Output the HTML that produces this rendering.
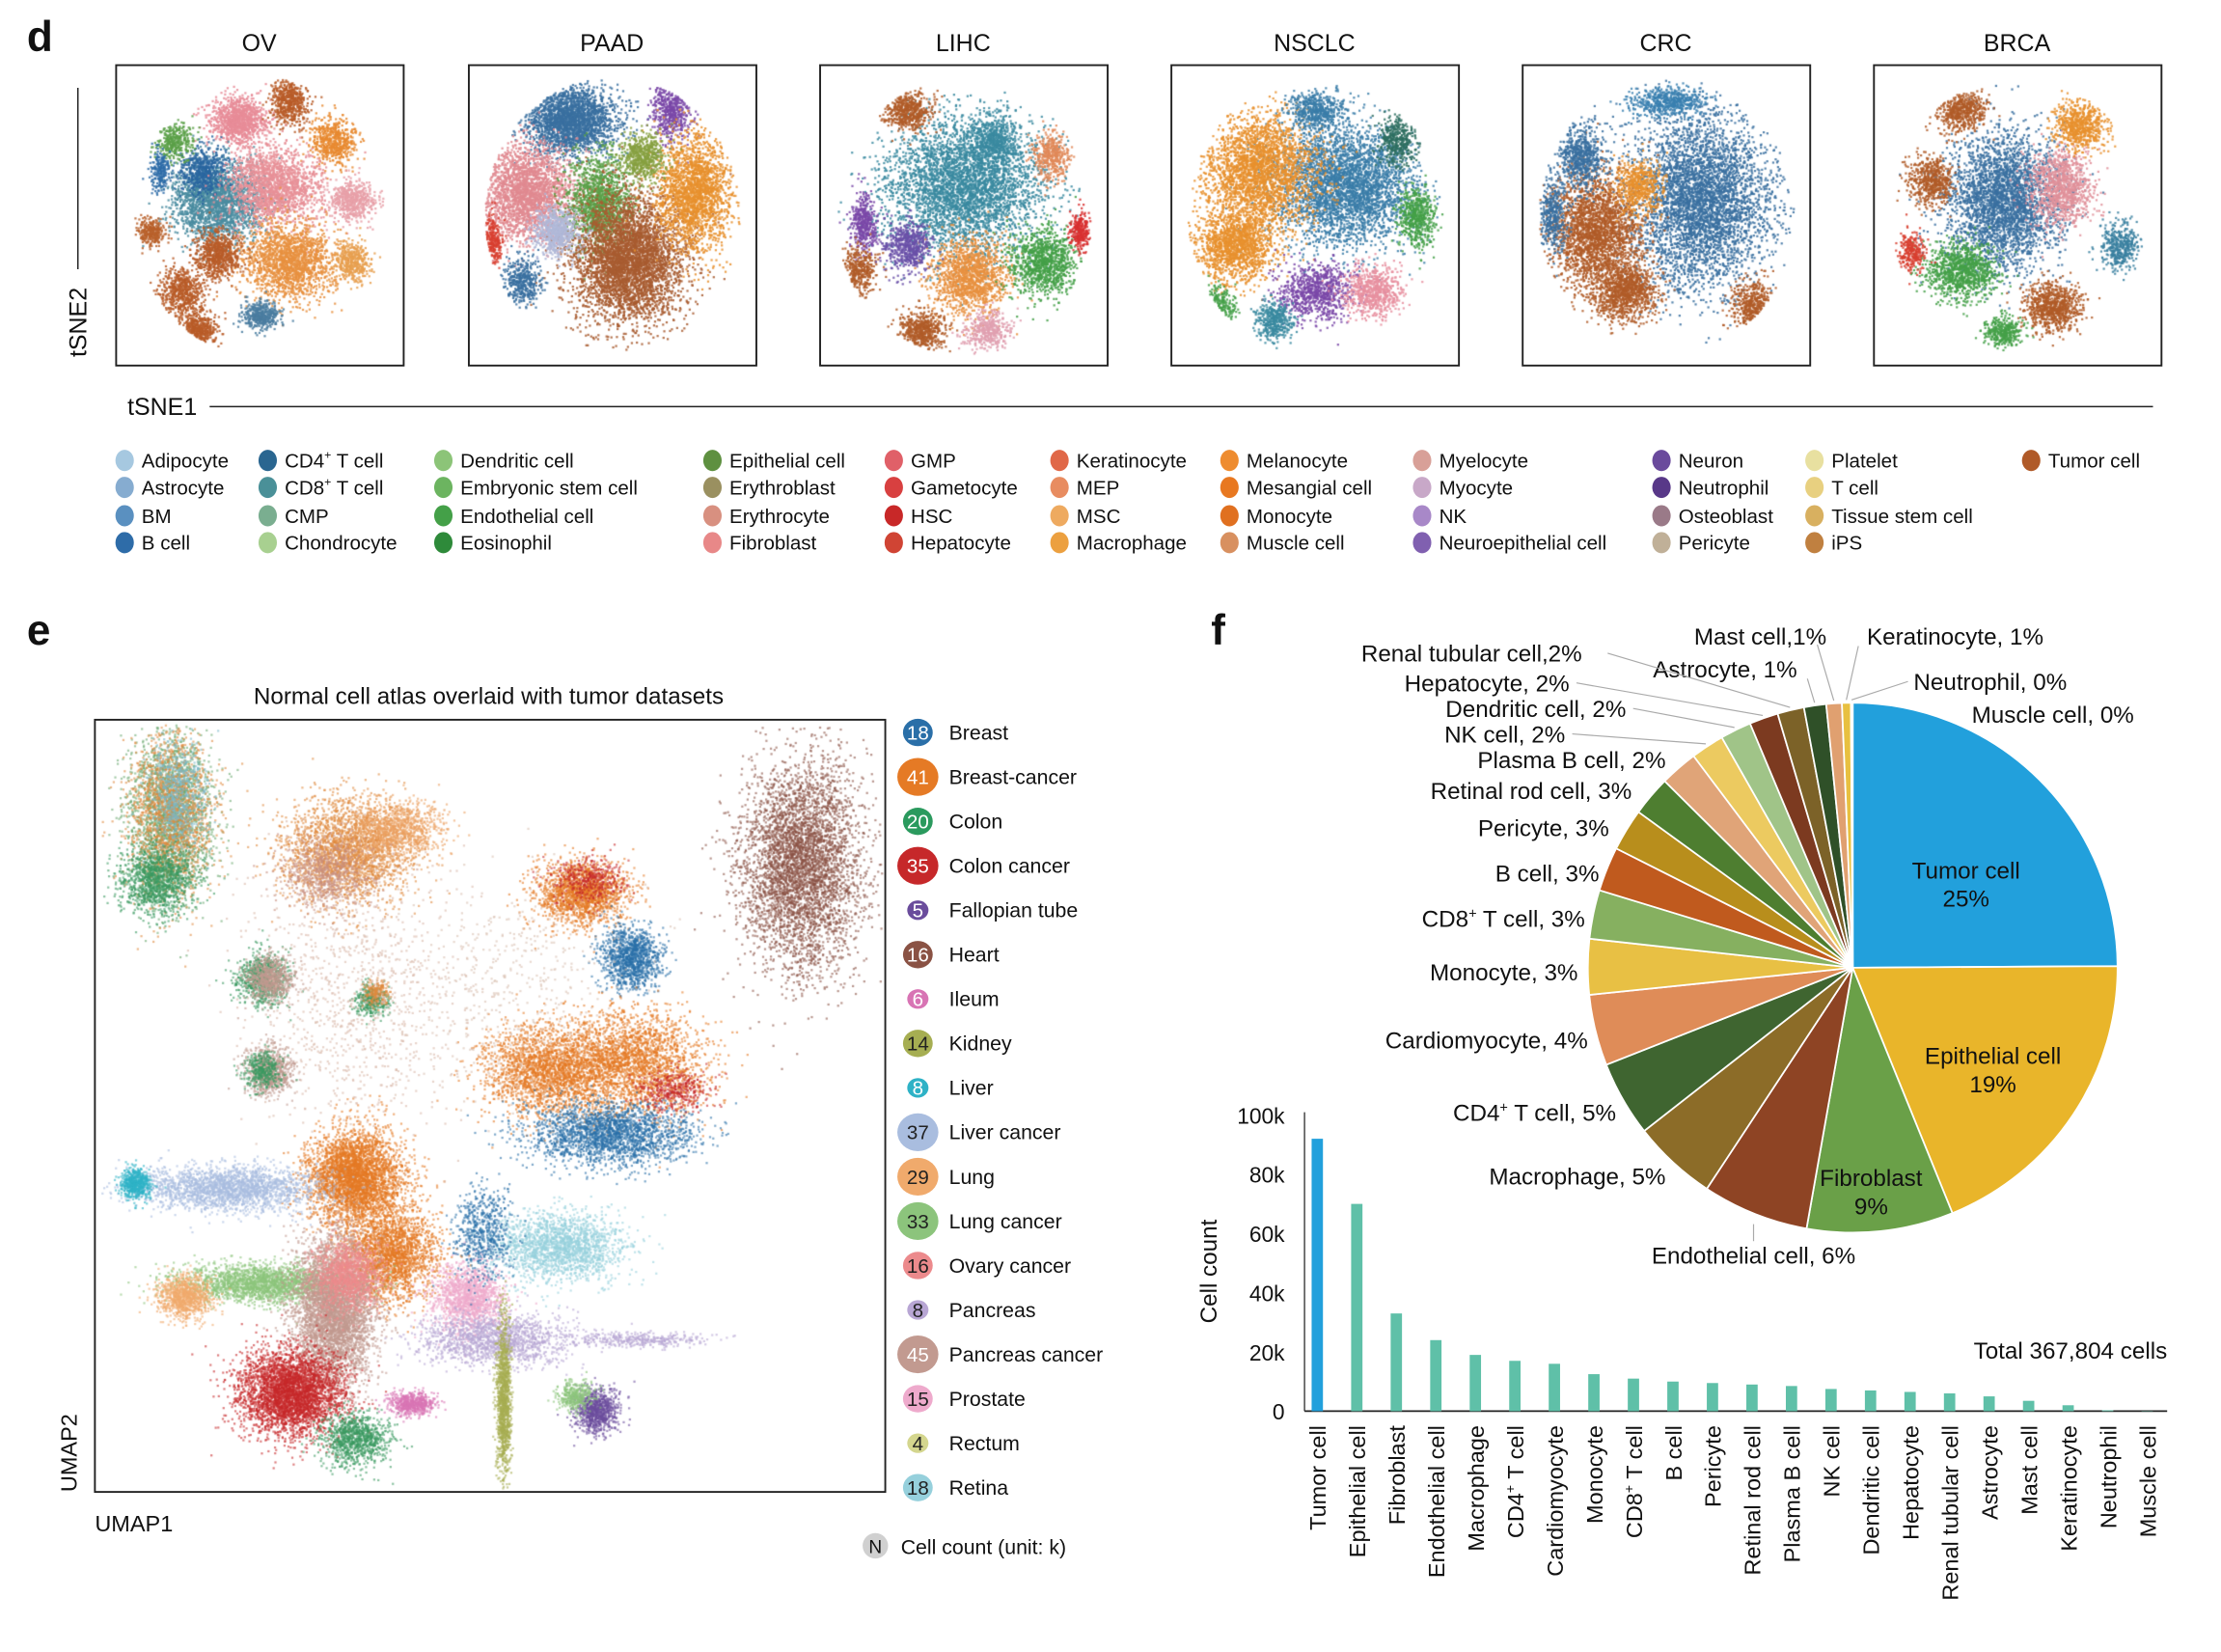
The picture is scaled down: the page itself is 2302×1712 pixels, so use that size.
<!DOCTYPE html>
<html><head><meta charset="utf-8">
<style>
html,body{margin:0;padding:0;background:#fff;overflow:hidden}
#root{position:relative;width:1568px;height:1166px;transform:scale(1.4681,1.4683);transform-origin:0 0}
svg{position:absolute;left:0;top:0}
canvas{position:absolute}
text{font-family:"Liberation Sans",sans-serif;fill:#111}
</style></head>
<body>
<div id="root">
<canvas id="cv" width="2302" height="1712" style="left:0;top:0;width:1568px;height:1166px"></canvas>
<svg id="sv" width="1568" height="1166" viewBox="0 0 1568 1166"></svg>
</div>
<script>
// ---------- DATA ----------
const panelTitles = ['OV','PAAD','LIHC','NSCLC','CRC','BRCA'];
const legendD = [
 ['Adipocyte','#a6c8e0'],['Astrocyte','#86acd0'],['BM','#5a90c0'],['B cell','#2e6ca8'],
 ['CD4+ T cell','#2a6690'],['CD8+ T cell','#4a9098'],['CMP','#7aae90'],['Chondrocyte','#a8d090'],
 ['Dendritic cell','#8cc478'],['Embryonic stem cell','#6cb460'],['Endothelial cell','#44a048'],['Eosinophil','#2e8a3a'],
 ['Epithelial cell','#5e9040'],['Erythroblast','#9a9060'],['Erythrocyte','#d89080'],['Fibroblast','#e88888'],
 ['GMP','#e06068'],['Gametocyte','#d84040'],['HSC','#c82828'],['Hepatocyte','#d04434'],
 ['Keratinocyte','#e06848'],['MEP','#e88c60'],['MSC','#eeaa60'],['Macrophage','#eca040'],
 ['Melanocyte','#ee8c30'],['Mesangial cell','#e87820'],['Monocyte','#e07020'],['Muscle cell','#d89060'],
 ['Myelocyte','#d8a098'],['Myocyte','#c8a8c8'],['NK','#a888c8'],['Neuroepithelial cell','#8060b0'],
 ['Neuron','#6a4a9c'],['Neutrophil','#583888'],['Osteoblast','#9a7a88'],['Pericyte','#c0b098'],
 ['Platelet','#e8e0a0'],['T cell','#e8d080'],['Tissue stem cell','#d8b060'],['iPS','#c08040'],
 ['Tumor cell','#b05a28']];
const tissueNames = ['Breast','Breast-cancer','Colon','Colon cancer','Fallopian tube','Heart','Ileum','Kidney','Liver','Liver cancer','Lung','Lung cancer','Ovary cancer','Pancreas','Pancreas cancer','Prostate','Rectum','Retina'];
const tissueCounts = [18,41,20,35,5,16,6,14,8,37,29,33,16,8,45,15,4,18];
const tissueColors = ['#2a6fa8','#e57a25','#2b9a5e','#c6282a','#6a4c9c','#8a5244','#d874b4','#a6ae52','#2eb2c6','#a9bddf','#f0aa6c','#8cc47c','#ec8a8c','#b8a6d4','#c29a90','#eeaacc','#d4d68e','#96d0dc'];
const cellTypes = ['Tumor cell','Epithelial cell','Fibroblast','Endothelial cell','Macrophage','CD4+ T cell','Cardiomyocyte','Monocyte','CD8+ T cell','B cell','Pericyte','Retinal rod cell','Plasma B cell','NK cell','Dendritic cell','Hepatocyte','Renal tubular cell','Astrocyte','Mast cell','Keratinocyte','Neutrophil','Muscle cell'];
const cellCounts = [92,70,33,24,19,17,16,12.5,11,10,9.5,9,8.5,7.5,7,6.5,6,5,3.5,2,0.3,0.1];
const cellColors = ['#22a0dc','#e9b52a','#6aa048','#8e4424','#8c6c28','#3f6530','#df8c58','#e8c044','#86b060','#c05a1e','#b88e1c','#4e7e30','#e0a478','#ecca60','#a0c488','#7c3a20','#7c6228','#2f5028','#e0a070','#e8c040','#f0d070','#cccccc'];
const pieLabels = ['Renal tubular cell,2%','Hepatocyte, 2%','Dendritic cell, 2%','NK cell, 2%','Plasma B cell, 2%','Retinal rod cell, 3%','Pericyte, 3%','B cell, 3%','CD8+ T cell, 3%','Monocyte, 3%','Cardiomyocyte, 4%','CD4+ T cell, 5%','Macrophage, 5%','Endothelial cell, 6%','Mast cell,1%','Astrocyte, 1%','Keratinocyte, 1%','Neutrophil, 0%','Muscle cell, 0%'];
const yTicks = [0,20,40,60,80,100];

// ---------- helpers ----------
const NS='http://www.w3.org/2000/svg';
const sv=document.getElementById('sv');
function mk(tag,attrs,parent){const e=document.createElementNS(NS,tag);for(const k in attrs)e.setAttribute(k,attrs[k]);(parent||sv).appendChild(e);return e;}
function txt(s,attrs,parent){const e=mk('text',attrs,parent);
  if(s.indexOf('+')>=0){const p=s.split('+');e.appendChild(document.createTextNode(p[0]));const t=document.createElementNS(NS,'tspan');t.setAttribute('dy','-6');t.setAttribute('font-size','0.6em');t.textContent='+';e.appendChild(t);const t2=document.createElementNS(NS,'tspan');t2.setAttribute('dy','6');t2.textContent=p[1];e.appendChild(t2);}
  else e.textContent=s;return e;}

// ---------- PRNG for scatter texture ----------
let seed=12345;function rnd(){seed|=0;seed=seed+0x6D2B79F5|0;let t=Math.imul(seed^seed>>>15,1|seed);t=t+Math.imul(t^t>>>7,61|t)^t;return((t^t>>>14)>>>0)/4294967296;}
function gauss(){let u=rnd()||1e-9,v=rnd();return Math.sqrt(-2*Math.log(u))*Math.cos(2*Math.PI*v);}
const cv=document.getElementById('cv');const ctx=cv.getContext('2d');ctx.scale(2302/1568,1712/1166);

// ---------- Panel d ----------
txt('d',{x:19,y:36,'font-size':30,'font-weight':'bold'});
const boxX=[82,331,579,827,1075,1323];
const panelClusters=[
 [[.42,.18,.06,.05,'#e88c98',150],[.6,.12,.04,.05,'#b85c28',80],[.75,.25,.05,.05,'#e88a30',80],[.35,.45,.1,.08,'#4a8ca0',300],[.3,.35,.05,.05,'#2a66a0',80],[.55,.4,.1,.08,'#e89098',250],[.82,.45,.05,.04,'#e8a0a8',80],[.2,.25,.04,.04,'#5aa048',50],[.6,.65,.1,.08,'#e89040',250],[.35,.63,.05,.05,'#b85c28',100],[.22,.75,.05,.05,'#b85c28',80],[.28,.88,.04,.04,'#b85c28',80],[.5,.83,.04,.03,'#4a7ca0',60],[.82,.65,.04,.04,'#e8a050',60],[.12,.55,.03,.03,'#b8602a',40],[.15,.35,.02,.04,'#2e6ca8',30]],
 [[.35,.18,.1,.07,'#3a70a0',350],[.7,.15,.04,.06,'#7a48a8',80],[.2,.42,.1,.1,'#e08a90',350],[.45,.45,.07,.1,'#5aa048',200],[.55,.64,.12,.13,'#a85c30',600],[.78,.42,.08,.12,'#e8902e',300],[.08,.58,.02,.05,'#d84030',40],[.18,.72,.04,.05,'#3a70a0',60],[.6,.3,.05,.05,'#86a040',80],[.3,.55,.05,.05,'#b0b8d8',100]],
 [[.5,.4,.17,.14,'#3a8aa0',550],[.3,.15,.05,.04,'#b05c28',80],[.6,.25,.05,.05,'#3a8aa0',80],[.8,.3,.04,.05,'#e08858',60],[.52,.7,.08,.08,'#e89040',200],[.77,.65,.07,.07,'#44a048',150],[.15,.52,.03,.06,'#7a48a8',60],[.13,.68,.04,.05,'#b05c28',60],[.9,.55,.02,.04,'#d83030',40],[.35,.88,.05,.04,'#b05c28',80],[.58,.88,.05,.04,'#e0a0b0',60],[.3,.6,.05,.05,'#6a50a8',80]],
 [[.6,.4,.15,.12,'#3a7ca8',500],[.3,.35,.12,.12,'#e8902e',400],[.22,.6,.08,.07,'#e8902e',200],[.5,.75,.08,.06,'#7a48a8',120],[.7,.75,.06,.05,'#e890a0',100],[.85,.5,.04,.06,'#44a048',80],[.5,.15,.06,.04,'#3a7ca8',80],[.15,.8,.04,.04,'#44a048',50],[.78,.25,.04,.05,'#2e6e60',60],[.35,.85,.04,.04,'#3a8aa0',60]],
 [[.62,.45,.15,.18,'#3a70a0',600],[.25,.55,.1,.12,'#b05c28',350],[.35,.75,.07,.06,'#b05c28',150],[.2,.3,.05,.07,'#3a70a0',100],[.5,.12,.08,.03,'#3a80b0',80],[.1,.5,.03,.08,'#3a70a0',60],[.8,.8,.05,.05,'#b05c28',80],[.4,.4,.05,.05,'#e8902e',80]],
 [[.45,.45,.12,.14,'#3a70a0',450],[.65,.4,.07,.08,'#e0909a',150],[.72,.2,.06,.05,'#e8902e',100],[.3,.15,.05,.04,'#b05c28',80],[.2,.38,.05,.05,'#b05c28',80],[.3,.68,.08,.06,'#44a048',150],[.62,.8,.06,.05,'#b05c28',120],[.85,.6,.04,.05,'#3a80a0',60],[.13,.62,.03,.04,'#d84030',40],[.45,.88,.04,.03,'#44a048',50]]];
panelTitles.forEach((t,i)=>{
  const x=boxX[i];
  const tt=txt(t,{x:x+101,y:36,'font-size':17,'text-anchor':'middle'});
  
  
  const r=mk('rect',{x:x,y:46,width:203,height:212,fill:'none',stroke:'#222','stroke-width':1.3});
  
  
  panelClusters[i].forEach(c=>{
    ctx.fillStyle=c[4];ctx.globalAlpha=0.85;
    for(let k=0;k<c[5]*7;k++){
      const px=x+203*(c[0]+c[2]*gauss()*0.8),py=46+212*(c[1]+c[3]*gauss()*0.8);
      const dx=(px-x-101)/90,dy=(py-152)/98; if(dx*dx+dy*dy>1)continue;
      ctx.fillRect(px,py,1.5,1.5);
    }
  });
});
ctx.globalAlpha=1;
mk('line',{x1:55,y1:62,x2:55,y2:190,stroke:'#222','stroke-width':1});
txt('tSNE2',{x:0,y:0,'font-size':17,transform:'translate(61,252) rotate(-90)'});
txt('tSNE1',{x:90,y:293,'font-size':17});
mk('line',{x1:148,y1:287,x2:1520,y2:287,stroke:'#222','stroke-width':1});
const colX=[88,189,313,503,631,748,868,1004,1173,1281,1434];
const rowY=[325,344,364,383];
legendD.forEach((e,i)=>{
  const cx=colX[Math.floor(i/4)],cy=rowY[i%4];
  const g=mk('g',{});
  
  
  mk('ellipse',{cx:cx,cy:cy,rx:6.5,ry:7.5,fill:e[1]},g);
  txt(e[0],{x:cx+12,y:cy+5,'font-size':14},g);
});

// ---------- Panel e ----------
txt('e',{x:19,y:455,'font-size':30,'font-weight':'bold'});
txt('Normal cell atlas overlaid with tumor datasets',{x:345,y:497,'font-size':16.5,'text-anchor':'middle'});
const umapClusters=[
 [120,575,22,45,'#6aa870',900],[120,575,22,45,'#e08a40',700],[110,620,20,18,'#3a9a60',500],[125,560,15,30,'#7ab8c8',250],
 [245,600,35,28,'#e08a40',1000],[280,585,25,15,'#eba060',400],[230,615,25,20,'#c89080',300],
 [185,690,14,14,'#3a9a60',350],[190,690,12,12,'#c09a90',300],[262,705,8,8,'#3a9a60',150],[265,700,7,7,'#e08a40',80],
 [190,755,13,13,'#c09a90',300],[185,755,10,10,'#3a9a60',150],
 [410,630,25,17,'#e57a25',700],[415,620,20,12,'#c6282a',150],[445,675,16,17,'#2a6fa8',500],
 [565,610,32,55,'#8a5244',1800],
 [385,755,35,25,'#e57a25',900],[445,750,40,28,'#e57a25',1000],[430,800,45,17,'#2a6fa8',900],[475,770,20,12,'#c6282a',150],
 [250,830,25,25,'#e57a25',1500],[275,885,25,25,'#e57a25',900],
 [160,838,50,12,'#a9bddf',900],[95,835,8,8,'#2eb2c6',250],
 [185,905,45,10,'#8cc47c',900],[130,915,14,12,'#f0aa6c',400],
 [235,925,22,40,'#c29a90',1800],[245,900,18,18,'#ec8a8c',500],
 [205,982,28,23,'#c6282a',1500],[250,1015,18,14,'#3a9a60',400],[290,990,12,6,'#d874b4',250],
 [330,915,20,18,'#eeaacc',600],[350,945,40,14,'#b8a6d4',600],[395,880,35,18,'#96d0dc',800],[340,870,15,25,'#2a6fa8',250],
 [355,985,4,40,'#a6ae52',500],[420,995,12,12,'#6a4c9c',350],[405,985,10,8,'#8cc47c',150],[450,945,35,4,'#b8a6d4',150],
 [250,700,60,70,'#d8b8a8',400],[360,700,60,60,'#d8c0b0',200]];
umapClusters.forEach(c=>{
  ctx.fillStyle=c[4];ctx.globalAlpha=0.6;
  for(let k=0;k<c[5]*2.5;k++){
    const px=c[0]+c[2]*gauss()*0.65,py=c[1]+c[3]*gauss()*0.65;
    if(px<70||px>622||py<511||py>1050)continue;
    ctx.fillRect(px,py,1.5,1.5);
  }
});
ctx.globalAlpha=1;
mk('rect',{x:67,y:508,width:558,height:545,fill:'none',stroke:'#222','stroke-width':1.3});
txt('UMAP2',{x:0,y:0,'font-size':16,transform:'translate(54,1053) rotate(-90)'});
txt('UMAP1',{x:67,y:1081,'font-size':16});
tissueNames.forEach((n,i)=>{
  const cy=517+i*31.35,c=tissueCounts[i];
  const rad=c<10?7.5:(c<25?10.5:14.5);
  const g=mk('g',{});
  
  
  mk('ellipse',{cx:648,cy:cy,rx:rad,ry:rad*0.92,fill:tissueColors[i]},g);
  const light=['#a9bddf','#f0aa6c','#8cc47c','#ec8a8c','#b8a6d4','#eeaacc','#d4d68e','#96d0dc','#a6ae52'].indexOf(tissueColors[i])>=0;
  txt(String(c),{x:648,y:cy+5,'font-size':14,'text-anchor':'middle',style:'fill:'+(light?'#222':'#fff')},g);
  txt(n,{x:670,y:cy+5,'font-size':14.5},g);
});
const ng=mk('g',{});


mk('circle',{cx:618,cy:1091,r:9,fill:'#d0d0d0'},ng);
txt('N',{x:618,y:1096,'font-size':13,'text-anchor':'middle'},ng);
txt('Cell count (unit: k)',{x:636,y:1097,'font-size':14.5},ng);

// ---------- Panel f: pie ----------
txt('f',{x:855,y:455,'font-size':30,'font-weight':'bold'});
const PCX=1308,PCY=683,PR=187;
const total=cellCounts.reduce((a,b)=>a+b,0);
let ang=0;const mids=[];
cellCounts.forEach((v,i)=>{
  const a0=ang,a1=ang+v/total*2*Math.PI;ang=a1;mids.push((a0+a1)/2);
  const p=(a)=>[PCX+PR*Math.sin(a),PCY-PR*Math.cos(a)];
  const [x0,y0]=p(a0),[x1,y1]=p(a1);
  const s=mk('path',{d:`M${PCX},${PCY}L${x0},${y0}A${PR},${PR} 0 ${a1-a0>Math.PI?1:0} 1 ${x1},${y1}Z`,fill:cellColors[i],stroke:'#fff','stroke-width':1.2});
  
  
});
function inner(lines,x,y,name){const g=mk('g',{});lines.forEach((l,k)=>txt(l,{x:x,y:y+k*20,'font-size':16.5,'text-anchor':'middle'},g));}
inner(['Tumor cell','25%'],1388,620,'pie-inner-label-tumor');
inner(['Epithelial cell','19%'],1407,751,'pie-inner-label-epithelial');
inner(['Fibroblast','9%'],1321,837,'pie-inner-label-fibroblast');
const pieLabelPos=[[961,467,'start',16],[1108,488,'end',15],[1148,506,'end',14],[1105,524,'end',13],[1176,542,'end',-1],[1152,564,'end',-1],[1136,590,'end',-1],[1129,622,'end',-1],[1119,654,'end',-1],[1114,692,'end',-1],[1121,740,'end',-1],[1141,791,'end',-1],[1176,836,'end',-1],[1238,892,'middle',-2],[1196,455,'start',18],[1167,478,'start',17],[1318,455,'start',19],[1351,487,'start',20],[1392,510,'start',21]];
pieLabels.forEach((l,i)=>{
  const q=pieLabelPos[i];
  const t=txt(l,{x:q[0],y:q[1],'font-size':16.5,'text-anchor':q[2]});
  
  
});
const leaders=[[1135,461,16],[1113,482,15],[1153,500,14],[1110,518,13],[1283,455,18],[1276,479,17],[1312,456,19],[1347,481,20]];
leaders.forEach(L=>{
  const a=mids[L[2]];const ex=PCX+(PR+2)*Math.sin(a),ey=PCY-(PR+2)*Math.cos(a);
  const ln=mk('polyline',{points:`${L[0]},${L[1]} ${ex},${ey}`,fill:'none',stroke:'#aaa','stroke-width':0.8});
  
  
});
mk('line',{x1:1238,y1:864,x2:1238,y2:876,stroke:'#aaa','stroke-width':0.8});

// ---------- Panel f: bars ----------
const X0=921,X1=1530,Y0=996,Y1=787;
const yS=v=>Y0-(v/100)*(Y0-Y1);
const xS=i=>930+i*27.9;
mk('line',{x1:X0,y1:Y1-2,x2:X0,y2:Y0,stroke:'#444','stroke-width':1});
mk('line',{x1:X0,y1:Y0,x2:X1,y2:Y0,stroke:'#222','stroke-width':1.2});
yTicks.forEach(v=>{
  const t=txt(v===0?'0':v+'k',{x:907,y:yS(v)+6,'font-size':15.5,'text-anchor':'end'});
  
  
});
txt('Cell count',{x:0,y:0,'font-size':16.5,transform:'translate(859,934) rotate(-90)'});
txt('Total 367,804 cells',{x:1530,y:959,'font-size':16.5,'text-anchor':'end'});
cellTypes.forEach((n,i)=>{
  const b=mk('rect',{x:xS(i)-4,y:yS(cellCounts[i]),width:8,height:Y0-yS(cellCounts[i]),fill:i===0?'#22a0dc':'#5fc0a8'});
  
  
  const t=txt(n,{x:0,y:0,'font-size':16,'text-anchor':'end',transform:`translate(${xS(i)+6},1006) rotate(-90)`});
  
  
});
</script>
</body></html>
